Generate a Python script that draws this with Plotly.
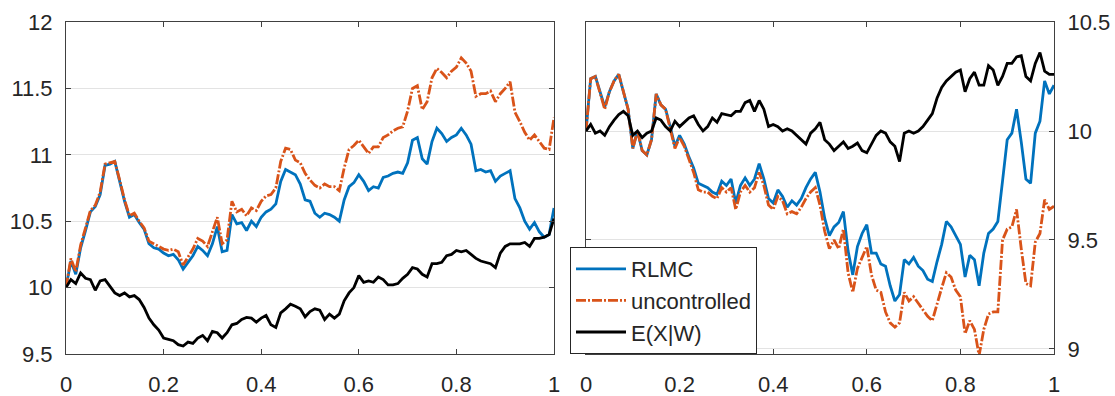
import plotly.graph_objects as go

# time grid (101 steps on [0, 1])
t = [i / 100 for i in range(101)]

# left panel: sample paths
left_rlmc = [
    10.00, 10.20, 10.10, 10.30, 10.43, 10.57, 10.61, 10.70, 10.92, 10.93,
    10.95, 10.80, 10.65, 10.53, 10.55, 10.49, 10.44, 10.33, 10.30, 10.29,
    10.26, 10.24, 10.25, 10.21, 10.14, 10.19, 10.24, 10.31, 10.28, 10.24,
    10.33, 10.46, 10.27, 10.28, 10.55, 10.48, 10.49, 10.43, 10.50, 10.46,
    10.53, 10.57, 10.59, 10.63, 10.80, 10.89, 10.87, 10.85, 10.78, 10.66,
    10.65, 10.56, 10.53, 10.56, 10.55, 10.53, 10.50, 10.66, 10.76, 10.79,
    10.85, 10.80, 10.73, 10.76, 10.75, 10.83, 10.84, 10.86, 10.87, 10.86,
    10.94, 11.11, 11.13, 10.97, 10.93, 11.10, 11.20, 11.16, 11.10, 11.13,
    11.15, 11.20, 11.15, 11.08, 10.88, 10.89, 10.87, 10.88, 10.80, 10.84,
    10.86, 10.88, 10.67, 10.60, 10.50, 10.44, 10.49, 10.42, 10.38, 10.40,
    10.60,
]
left_unc = [
    10.00, 10.22, 10.12, 10.32, 10.45, 10.58, 10.62, 10.72, 10.93, 10.94,
    10.95, 10.81, 10.66, 10.54, 10.56, 10.50, 10.45, 10.35, 10.33, 10.31,
    10.29, 10.28, 10.29, 10.27, 10.17, 10.23, 10.29, 10.37, 10.35, 10.31,
    10.42, 10.53, 10.33, 10.36, 10.65, 10.57, 10.59, 10.54, 10.60, 10.58,
    10.65, 10.69, 10.70, 10.75, 10.95, 11.05, 11.04, 10.96, 10.94, 10.86,
    10.81, 10.77, 10.75, 10.78, 10.76, 10.76, 10.73, 10.90, 11.04, 11.07,
    11.11, 11.06, 11.01, 11.06, 11.06, 11.13, 11.15, 11.18, 11.20, 11.21,
    11.33, 11.50, 11.52, 11.34, 11.40, 11.58, 11.65, 11.62, 11.58, 11.63,
    11.66, 11.73, 11.69, 11.63, 11.44, 11.46, 11.46, 11.48, 11.40, 11.46,
    11.50, 11.55, 11.32, 11.25, 11.17, 11.11, 11.15, 11.10, 11.05, 11.04,
    11.28,
]
left_cond = [
    10.00, 10.06, 10.03, 10.11, 10.07, 10.06, 9.98, 10.05, 10.06, 10.01,
    9.96, 9.94, 9.96, 9.93, 9.94, 9.91, 9.85, 9.77, 9.72, 9.68,
    9.62, 9.61, 9.60, 9.57, 9.56, 9.59, 9.58, 9.62, 9.64, 9.60,
    9.67, 9.66, 9.62, 9.66, 9.72, 9.73, 9.76, 9.775, 9.77, 9.74,
    9.77, 9.79, 9.72, 9.70, 9.81, 9.84, 9.875, 9.86, 9.84, 9.78,
    9.82, 9.84, 9.83, 9.76, 9.80, 9.77, 9.80, 9.90, 9.96, 10.00,
    10.09, 10.04, 10.05, 10.04, 10.08, 10.06, 10.02, 10.02, 10.03, 10.07,
    10.10, 10.15, 10.14, 10.10, 10.08, 10.18, 10.18, 10.19, 10.24, 10.25,
    10.28, 10.27, 10.28, 10.25, 10.22, 10.20, 10.19, 10.18, 10.15, 10.26,
    10.31, 10.33, 10.33, 10.33, 10.34, 10.31, 10.37, 10.37, 10.38, 10.40,
    10.52,
]

# right panel: sample paths
right_rlmc = [
    10.00, 10.24, 10.25, 10.18, 10.11, 10.18, 10.23, 10.26, 10.18, 10.10,
    9.92, 10.00, 9.91, 9.89, 9.96, 10.17, 10.12, 10.10, 10.02, 9.93,
    9.98, 9.94, 9.88, 9.83, 9.76, 9.75, 9.74, 9.72, 9.71, 9.77,
    9.75, 9.78, 9.67, 9.75, 9.785, 9.75, 9.78, 9.85, 9.78, 9.69,
    9.67, 9.73, 9.70, 9.65, 9.68, 9.66, 9.69, 9.74, 9.78, 9.81,
    9.72, 9.60, 9.52, 9.56, 9.58, 9.63, 9.45, 9.34, 9.47, 9.53,
    9.57, 9.44, 9.44, 9.39, 9.38, 9.29, 9.22, 9.25, 9.41, 9.39,
    9.42, 9.38, 9.36, 9.32, 9.31, 9.40, 9.48, 9.585, 9.56, 9.52,
    9.48, 9.33, 9.43, 9.41, 9.29, 9.44, 9.53, 9.55, 9.585, 9.77,
    9.96, 9.99, 10.10, 9.95, 9.78, 9.76, 9.99, 10.045, 10.23, 10.17,
    10.21,
]
right_unc = [
    10.00, 10.24, 10.25, 10.18, 10.10, 10.18, 10.23, 10.26, 10.18, 10.10,
    9.92, 10.00, 9.91, 9.89, 9.96, 10.17, 10.12, 10.10, 10.01, 9.92,
    9.97, 9.93, 9.87, 9.81, 9.73, 9.72, 9.72, 9.70, 9.69, 9.74,
    9.72, 9.74, 9.64, 9.72, 9.75, 9.72, 9.74, 9.81, 9.75, 9.66,
    9.64, 9.70, 9.68, 9.62, 9.63, 9.62, 9.65, 9.69, 9.72, 9.74,
    9.66, 9.54, 9.46, 9.50, 9.46, 9.55, 9.35, 9.26, 9.37, 9.42,
    9.47, 9.34, 9.27, 9.26, 9.17, 9.12, 9.10, 9.12, 9.26, 9.22,
    9.24, 9.21, 9.18, 9.15, 9.13, 9.21, 9.28, 9.35, 9.33, 9.27,
    9.24, 9.07, 9.13, 9.09, 8.97, 9.09, 9.16, 9.17, 9.17, 9.50,
    9.55, 9.56, 9.64, 9.46, 9.30, 9.29, 9.49, 9.53, 9.685, 9.64,
    9.655,
]
right_cond = [
    10.00, 10.03, 9.99, 10.00, 9.98, 10.02, 10.05, 10.075, 10.09, 10.07,
    9.98, 10.00, 9.97, 9.99, 10.00, 10.06, 10.05, 10.02, 10.00, 10.045,
    10.02, 10.04, 10.06, 10.07, 10.03, 10.00, 10.02, 10.06, 10.04, 10.08,
    10.075, 10.07, 10.09, 10.09, 10.13, 10.14, 10.09, 10.14, 10.10, 10.02,
    10.03, 10.02, 10.00, 10.01, 10.00, 9.98, 9.96, 9.94, 9.99, 10.01,
    10.04, 9.96, 9.94, 9.91, 9.93, 9.95, 9.92, 9.93, 9.945, 9.91,
    9.90, 9.94, 9.98, 10.00, 9.99, 9.95, 9.93, 9.86, 9.99, 10.00,
    9.99, 10.00, 10.02, 10.05, 10.08, 10.15, 10.20, 10.23, 10.25, 10.27,
    10.28, 10.18, 10.24, 10.27, 10.21, 10.21, 10.30, 10.28, 10.21, 10.25,
    10.31, 10.31, 10.34, 10.345, 10.25, 10.23, 10.31, 10.36, 10.275, 10.26,
    10.26,
]

series_names = ["RLMC", "uncontrolled", "E(X|W)"]

x_ticks = [0, 0.2, 0.4, 0.6, 0.8, 1]
x_ticktext = ["0", "0.2", "0.4", "0.6", "0.8", "1"]
left_yticks = [9.5, 10, 10.5, 11, 11.5, 12]
left_yticktext = ["9.5", "10", "10.5", "11", "11.5", "12"]
right_yticks = [9, 9.5, 10, 10.5]
right_yticktext = ["9", "9.5", "10", "10.5"]

BLUE = "#0072BD"
ORANGE = "#D95319"
BLACK = "#000000"
AXIS = "#404040"
TEXT = "#262626"
GRID = "#e3e3e3"
LW = 2.8
DASHDOT = "10px,2px,2px,2px"

fig = go.Figure()

styles = [
    dict(color=BLUE, width=LW),
    dict(color=ORANGE, width=LW, dash=DASHDOT),
    dict(color=BLACK, width=LW),
]

for ys, st, name in zip([left_rlmc, left_unc, left_cond], styles, series_names):
    fig.add_trace(go.Scatter(x=t, y=ys, mode="lines", line=st, name=name,
                             xaxis="x", yaxis="y", showlegend=False))

for ys, st, name in zip([right_rlmc, right_unc, right_cond], styles, series_names):
    fig.add_trace(go.Scatter(x=t, y=ys, mode="lines", line=st, name=name,
                             xaxis="x2", yaxis="y2", showlegend=True))

W, H = 1115, 396
top, bottom = 22, 354
ydom = [1 - bottom / H, 1 - top / H]

tickfont = dict(family="Liberation Sans, Arial, sans-serif", size=22, color=TEXT)

common_x = dict(
    range=[0, 1], tickvals=x_ticks, ticktext=x_ticktext,
    showline=True, linecolor=AXIS, linewidth=1, mirror="ticks",
    ticks="inside", ticklen=5, tickcolor=AXIS, showgrid=False,
    zeroline=False, tickfont=tickfont, ticklabelstandoff=11,
    automargin=False,
)
common_y = dict(
    showline=True, linecolor=AXIS, linewidth=1, mirror="ticks",
    ticks="inside", ticklen=5, tickcolor=AXIS, showgrid=True,
    gridcolor=GRID, gridwidth=1, zeroline=False, tickfont=tickfont,
    ticklabelstandoff=8, automargin=False,
)

fig.update_layout(
    width=W, height=H,
    margin=dict(l=0, r=0, t=0, b=0, autoexpand=False),
    paper_bgcolor="white", plot_bgcolor="white",
    xaxis=dict(domain=[66 / W, 554 / W], anchor="y", **common_x),
    yaxis=dict(domain=ydom, anchor="x", range=[9.5, 12],
               tickvals=left_yticks, ticktext=left_yticktext, **common_y),
    xaxis2=dict(domain=[586 / W, 1054 / W], anchor="y2", **common_x),
    yaxis2=dict(domain=ydom, anchor="x2", side="right", range=[8.977, 10.5],
                tickvals=right_yticks, ticktext=right_yticktext, **common_y),
    legend=dict(
        x=570 / W, y=1 - 247 / H, xanchor="left", yanchor="top",
        bgcolor="white", bordercolor=TEXT, borderwidth=1,
        font=dict(family="Liberation Sans, Arial, sans-serif", size=22, color=TEXT),
        tracegroupgap=0, itemwidth=50,
    ),
)

fig.write_html("out.html")
